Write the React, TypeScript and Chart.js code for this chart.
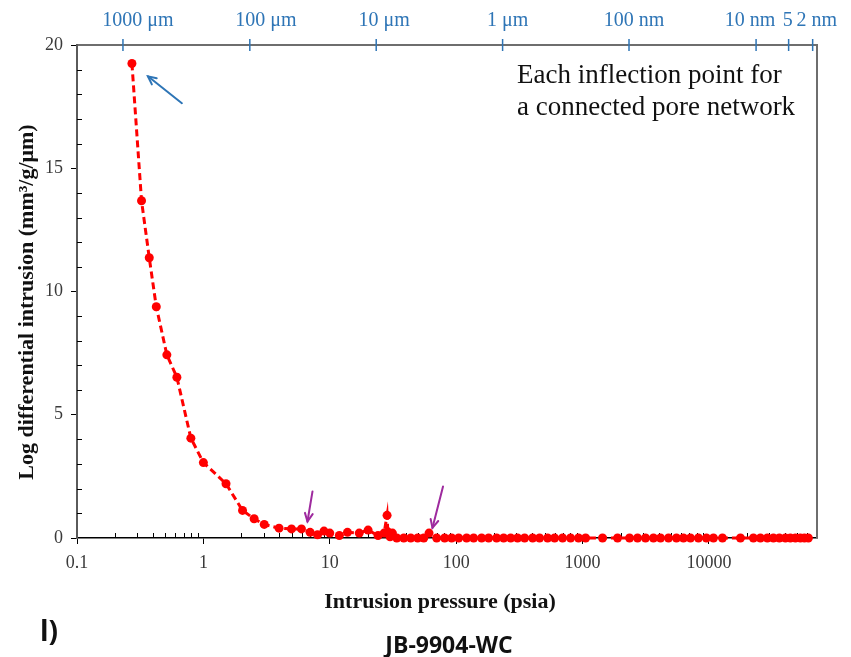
import React, { useEffect, useRef } from "react";
import { Chart, registerables } from "chart.js";

Chart.register(...registerables);

// Intrusion pressure (psia)
const pressurePsia = [
  0.272, 0.324, 0.373, 0.424, 0.514, 0.617, 0.796, 1.0, 1.51, 2.04,
  2.52, 3.03, 3.97, 4.98, 5.97, 6.99, 8.0, 9.0, 10.0, 11.9,
  13.8, 17.1, 20.1, 24.1, 26.9, 28.4, 28.8, 30.0, 31.3, 33.9,
  38.5, 43.7, 49.6, 55.4, 61.0, 70.1, 81.1, 92.1, 104.7, 121,
  137.5, 159, 180.7, 209, 237.5, 270, 306, 348, 403, 457,
  529, 601, 695, 804, 929, 1057, 1439, 1892, 2354, 2723,
  3148, 3640, 4138, 4786, 5534, 6285, 7140, 8256, 9548, 10860,
  12790, 17750, 22480, 25530, 28980, 32350, 36060, 40270, 44060, 48290,
  52840, 56870, 61170,
];

// Log differential intrusion (mm3/g/um)
const logDiffIntrusion = [
  19.25, 13.68, 11.37, 9.38, 7.43, 6.52, 4.05, 3.06, 2.2, 1.12,
  0.78, 0.55, 0.4, 0.37, 0.37, 0.23, 0.13, 0.28, 0.2, 0.1,
  0.23, 0.2, 0.32, 0.1, 0.2, 0.92, 0.25, 0.05, 0.2, 0.0,
  0.0, 0.0, 0.0, 0.0, 0.2, 0.0, 0.0, 0.0, 0.0, 0.0,
  0.0, 0.0, 0.0, 0.0, 0.0, 0.0, 0.0, 0.0, 0.0, 0.0,
  0.0, 0.0, 0.0, 0.0, 0.0, 0.0, 0.0, 0.0, 0.0, 0.0,
  0.0, 0.0, 0.0, 0.0, 0.0, 0.0, 0.0, 0.0, 0.0, 0.0,
  0.0, 0.0, 0.0, 0.0, 0.0, 0.0, 0.0, 0.0, 0.0, 0.0,
  0.0, 0.0, 0.0,
];

const xTickValues = [0.1, 1, 10, 100, 1000, 10000];
const xTickLabels = ["0.1", "1", "10", "100", "1000", "10000"];
const yTickValues = [0, 5, 10, 15, 20];
const yTickLabels = ["0", "5", "10", "15", "20"];

// secondary (top) axis: pore throat size
const poreSizeLabels = ["1000 μm", "100 μm", "10 μm", "1 μm", "100 nm", "10 nm", "5", "2 nm"];
const poreSizePressures = [0.231, 2.33, 23.3, 233, 2331, 23600, 42700, 66150];
const poreLabelShift = [15, 16, 8, 5, 5, -6, -1, 4];

const xMin = 0.1;
const xMax = 71600;
const yMin = 0;
const yMax = 20;

// annotation arrows in data coordinates (pressure, value)
const arrowTailP = [0.676, 7.3, 78.7];
const arrowTailV = [17.64, 1.89, 2.09];
const arrowHeadP = [0.364, 6.66, 64.9];
const arrowHeadV = [18.73, 0.67, 0.41];
const arrowColors = ["#2E75B6", "#9E2A9E", "#9E2A9E"];

const noteLines = ["Each inflection point for", "a connected pore network"];
const xTitle = "Intrusion pressure (psia)";
const yTitle = "Log differential intrusion (mm³/g/μm)";
const panelLabel = "l)";
const sampleName = "JB-9904-WC";

const SERIF = '"Liberation Serif", "Times New Roman", serif';
const SANS = '"Open Sans", "Liberation Sans", sans-serif';

const decorPlugin = {
  id: "decor",
  beforeDatasetsDraw(chart: any) {
    const { ctx, chartArea, scales } = chart;
    const xs = scales.x;
    const ys = scales.y;
    const x2 = scales.x2;
    ctx.save();
    // minor ticks inside (x)
    ctx.strokeStyle = "#000";
    ctx.lineWidth = 1;
    for (let d = 0.1; d < xMax; d *= 10) {
      for (let k = 2; k <= 9; k++) {
        const v = d * k;
        if (v > xMax) break;
        const px = Math.round(xs.getPixelForValue(v)) + 0.5;
        ctx.beginPath();
        ctx.moveTo(px, chartArea.bottom);
        ctx.lineTo(px, chartArea.bottom - 5);
        ctx.stroke();
      }
    }
    // minor ticks inside (y)
    for (let v = yMin + 1; v < yMax; v++) {
      if (v % 5 === 0) continue;
      const py = Math.round(ys.getPixelForValue(v)) + 0.5;
      ctx.beginPath();
      ctx.moveTo(chartArea.left, py);
      ctx.lineTo(chartArea.left + 5, py);
      ctx.stroke();
    }
    // right border
    ctx.strokeStyle = "#6E6E6E";
    ctx.lineWidth = 2;
    ctx.beginPath();
    ctx.moveTo(chartArea.right, chartArea.top);
    ctx.lineTo(chartArea.right, chartArea.bottom);
    ctx.stroke();
    // top axis ticks (blue, crossing the line) and labels
    ctx.strokeStyle = "#2E75B6";
    ctx.fillStyle = "#2E75B6";
    ctx.lineWidth = 1.5;
    ctx.font = `20px ${SERIF}`;
    ctx.textAlign = "center";
    ctx.textBaseline = "middle";
    poreSizePressures.forEach((p, i) => {
      const px = x2.getPixelForValue(p);
      ctx.beginPath();
      ctx.moveTo(px, chartArea.top - 6);
      ctx.lineTo(px, chartArea.top + 6);
      ctx.stroke();
      ctx.fillText(poreSizeLabels[i], px + poreLabelShift[i], 21);
    });
    ctx.restore();
  },
  afterDraw(chart: any) {
    const { ctx, scales } = chart;
    const xs = scales.x;
    const ys = scales.y;
    ctx.save();
    // arrows
    for (let i = 0; i < arrowTailP.length; i++) {
      const x0 = xs.getPixelForValue(arrowTailP[i]);
      const y0 = ys.getPixelForValue(arrowTailV[i]);
      const x1 = xs.getPixelForValue(arrowHeadP[i]);
      const y1 = ys.getPixelForValue(arrowHeadV[i]);
      ctx.strokeStyle = arrowColors[i];
      ctx.lineWidth = 2;
      ctx.lineCap = "round";
      ctx.beginPath();
      ctx.moveTo(x0, y0);
      ctx.lineTo(x1, y1);
      ctx.stroke();
      const ang = Math.atan2(y1 - y0, x1 - x0);
      const hl = 9;
      ctx.beginPath();
      ctx.moveTo(x1 - hl * Math.cos(ang - 0.45), y1 - hl * Math.sin(ang - 0.45));
      ctx.lineTo(x1, y1);
      ctx.lineTo(x1 - hl * Math.cos(ang + 0.45), y1 - hl * Math.sin(ang + 0.45));
      ctx.stroke();
    }
    // note text
    ctx.fillStyle = "#111";
    ctx.font = `27px ${SERIF}`;
    ctx.textAlign = "left";
    ctx.textBaseline = "middle";
    ctx.fillText(noteLines[0], 517, 76);
    ctx.fillText(noteLines[1], 517, 108);
    // axis titles
    ctx.font = `bold 22px ${SERIF}`;
    ctx.textAlign = "center";
    ctx.fillText(xTitle, 440, 602);
    ctx.save();
    ctx.translate(27, 302);
    ctx.rotate(-Math.PI / 2);
    ctx.fillText(yTitle, 0, 0);
    ctx.restore();
    // panel label and sample
    ctx.font = `bold 28px ${SANS}`;
    ctx.textAlign = "left";
    ctx.fillText(panelLabel, 40, 633);
    ctx.font = `bold 23px ${SANS}`;
    ctx.textAlign = "center";
    ctx.fillText(sampleName, 449, 646);
    ctx.restore();
  },
};

export default function App() {
  const ref = useRef<HTMLCanvasElement | null>(null);
  useEffect(() => {
    document.body.style.margin = "0";
    const canvas = ref.current;
    if (!canvas) return;
    const chart = new Chart(canvas, {
      type: "scatter",
      data: {
        datasets: [
          {
            data: pressurePsia.map((p, i) => ({ x: p, y: logDiffIntrusion[i] })),
            showLine: true,
            borderColor: "#FF0000",
            backgroundColor: "#FF0000",
            borderWidth: 3,
            borderDash: [7, 4],
            pointRadius: 4.5,
            pointBorderWidth: 0,
            pointBackgroundColor: "#FF0000",
            tension: 0,
            clip: false,
            xAxisID: "x",
            yAxisID: "y",
          } as any,
        ],
      },
      options: {
        responsive: false,
        animation: false,
        events: [],
        layout: { padding: { left: 0, right: 34, top: 0, bottom: 0 } },
        plugins: { legend: { display: false }, tooltip: { enabled: false } },
        scales: {
          x: {
            type: "logarithmic",
            position: "bottom",
            min: xMin,
            max: xMax,
            afterBuildTicks: (s: any) => {
              s.ticks = xTickValues.map((v) => ({ value: v }));
            },
            afterFit: (s: any) => {
              s.height = 119;
            },
            ticks: {
              autoSkip: false,
              maxRotation: 0,
              padding: 8,
              color: "#3A3A3A",
              font: { family: SERIF, size: 18 },
              callback: (_v: any, i: number) => xTickLabels[i],
            },
            grid: { drawOnChartArea: false, drawTicks: true, tickLength: 6, color: "#000", lineWidth: 1 },
            border: { display: true, color: "#000", width: 1.5 },
          } as any,
          x2: {
            type: "logarithmic",
            position: "top",
            min: xMin,
            max: xMax,
            afterBuildTicks: (s: any) => {
              s.ticks = poreSizePressures.map((v) => ({ value: v }));
            },
            afterFit: (s: any) => {
              s.height = 45;
            },
            ticks: { display: false },
            grid: { drawOnChartArea: false, drawTicks: false },
            border: { display: true, color: "#6E6E6E", width: 2 },
          } as any,
          y: {
            type: "linear",
            min: yMin,
            max: yMax,
            afterBuildTicks: (s: any) => {
              s.ticks = yTickValues.map((v) => ({ value: v }));
            },
            afterFit: (s: any) => {
              s.width = 77;
            },
            ticks: {
              padding: 8,
              color: "#3A3A3A",
              font: { family: SERIF, size: 18 },
              callback: (_v: any, i: number) => yTickLabels[i],
            },
            grid: { drawOnChartArea: false, drawTicks: true, tickLength: 6, color: "#000", lineWidth: 1 },
            border: { display: true, color: "#5A5A5A", width: 2 },
          } as any,
        },
      },
      plugins: [decorPlugin],
    });
    return () => chart.destroy();
  }, []);
  return (
    <div style={{ width: 851, height: 657, background: "#fff" }}>
      <canvas ref={ref} width={851} height={657} style={{ display: "block" }} />
    </div>
  );
}
